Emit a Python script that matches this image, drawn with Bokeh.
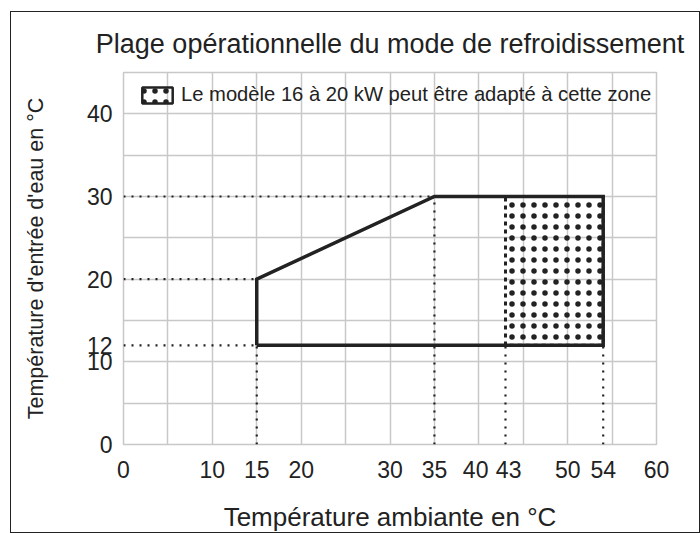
from bokeh.plotting import figure
from bokeh.models import FixedTicker, Range1d, Legend, LegendItem
from bokeh.embed import file_html
from bokeh.resources import INLINE

# ---- texts ----
title_text = "Plage opérationnelle du mode de refroidissement"
x_label = "Température ambiante en °C"
y_label = "Température d'entrée d'eau en °C"
legend_label = "Le modèle 16 à 20 kW peut être adapté à cette zone"

# ---- ticks / grid ----
x_ticks = [0, 10, 15, 20, 30, 35, 40, 43, 50, 54, 60]
y_ticks = [0, 10, 12, 20, 30, 40]
x_grid = [0, 5, 10, 15, 20, 25, 30, 35, 40, 45, 50, 55, 60]
y_grid = [0, 5, 10, 15, 20, 25, 30, 35, 40, 45]

# ---- operating envelope (ambient °C, water inlet °C) ----
env_x = [15, 15, 35, 54, 54, 15]
env_y = [12, 20, 30, 30, 12, 12]

# ---- zone for 16-20 kW model ----
zone_left = [43]
zone_right = [54]
zone_bottom = [12]
zone_top = [30]

# ---- dotted guide lines ----
h_guide_y = [30, 20, 12]
h_guide_x_end = [35, 15, 15]
v_guide_x = [15, 35, 43, 54]
v_guide_y_end = [12, 30, 12, 12]

FONT = "Liberation Sans"
INK = "#222222"

p = figure(width=688, height=520, output_backend="svg", toolbar_location=None,
           x_range=Range1d(0, 60), y_range=Range1d(0, 45),
           margin=(11, 0, 0, 10),
           styles={"border": "1.5px solid #222", "box-sizing": "content-box"},
           min_border_left=112, min_border_right=45, min_border_top=60, min_border_bottom=84,
           background_fill_color="white", border_fill_color="white")

p.title.text = title_text
p.title.text_font = FONT
p.title.text_font_size = "27px"
p.title.text_font_style = "normal"
p.title.text_color = INK
p.title.align = "center"
p.title.standoff = 28

p.outline_line_color = "#c8c8c8"
p.outline_line_width = 1.5

for ax in (p.xaxis[0], p.yaxis[0]):
    ax.axis_line_color = None
    ax.major_tick_line_color = None
    ax.minor_tick_line_color = None
    ax.major_label_text_font = FONT
    ax.major_label_text_font_size = "23px"
    ax.major_label_text_color = INK
    ax.axis_label_text_font = FONT
    ax.axis_label_text_font_style = "normal"
    ax.axis_label_text_color = INK

p.xaxis[0].ticker = FixedTicker(ticks=x_ticks)
p.yaxis[0].ticker = FixedTicker(ticks=y_ticks)
p.xaxis[0].major_label_overrides = {40: "40\u00a0", 43: "\u00a043"}
p.xaxis[0].axis_label = x_label
p.yaxis[0].axis_label = y_label
p.xaxis[0].axis_label_text_font_size = "26px"
p.yaxis[0].axis_label_text_font_size = "21.5px"
p.xaxis[0].major_label_standoff = 6
p.yaxis[0].major_label_standoff = 5
p.xaxis[0].axis_label_standoff = 16
p.yaxis[0].axis_label_standoff = 36

p.xgrid[0].ticker = FixedTicker(ticks=x_grid)
p.ygrid[0].ticker = FixedTicker(ticks=y_grid)
for g in (p.xgrid[0], p.ygrid[0]):
    g.grid_line_color = "#c8c8c8"
    g.grid_line_width = 1.5

# dotted guides
p.segment(x0=[0] * len(h_guide_y), y0=h_guide_y, x1=h_guide_x_end, y1=h_guide_y,
          line_color=INK, line_width=2.2, line_dash="2 6")
p.segment(x0=v_guide_x, y0=[0] * len(v_guide_x), x1=v_guide_x, y1=v_guide_y_end,
          line_color=INK, line_width=2.2, line_dash="2 6")

# hatched zone
p.quad(left=zone_left, right=zone_right, bottom=zone_bottom, top=zone_top,
       fill_color=None, line_color=INK, line_width=3, line_dash="4 4",
       hatch_pattern="dot", hatch_color=INK, hatch_scale=11, hatch_weight=1.5)

# envelope
p.line(env_x, env_y, line_color=INK, line_width=3.5, line_join="miter")

# legend proxy (same zone, hidden on the plot, solid border in the legend)
proxy = p.quad(left=zone_left, right=zone_right, bottom=zone_bottom, top=zone_top,
               fill_color=None, line_color=INK, line_width=2.5,
               hatch_pattern="dot", hatch_color=INK, hatch_scale=11, hatch_weight=1.5,
               visible=False)
legend = Legend(items=[LegendItem(label=legend_label, renderers=[proxy])],
                location=(15, 338), margin=0, padding=0,
                glyph_width=38, glyph_height=20, label_standoff=5,
                label_text_font=FONT, label_text_font_size="20.2px", label_text_color=INK,
                background_fill_alpha=0, border_line_alpha=0,
                inactive_fill_alpha=0)
p.add_layout(legend, "center")

open("out.html", "w").write(file_html(p, INLINE))
